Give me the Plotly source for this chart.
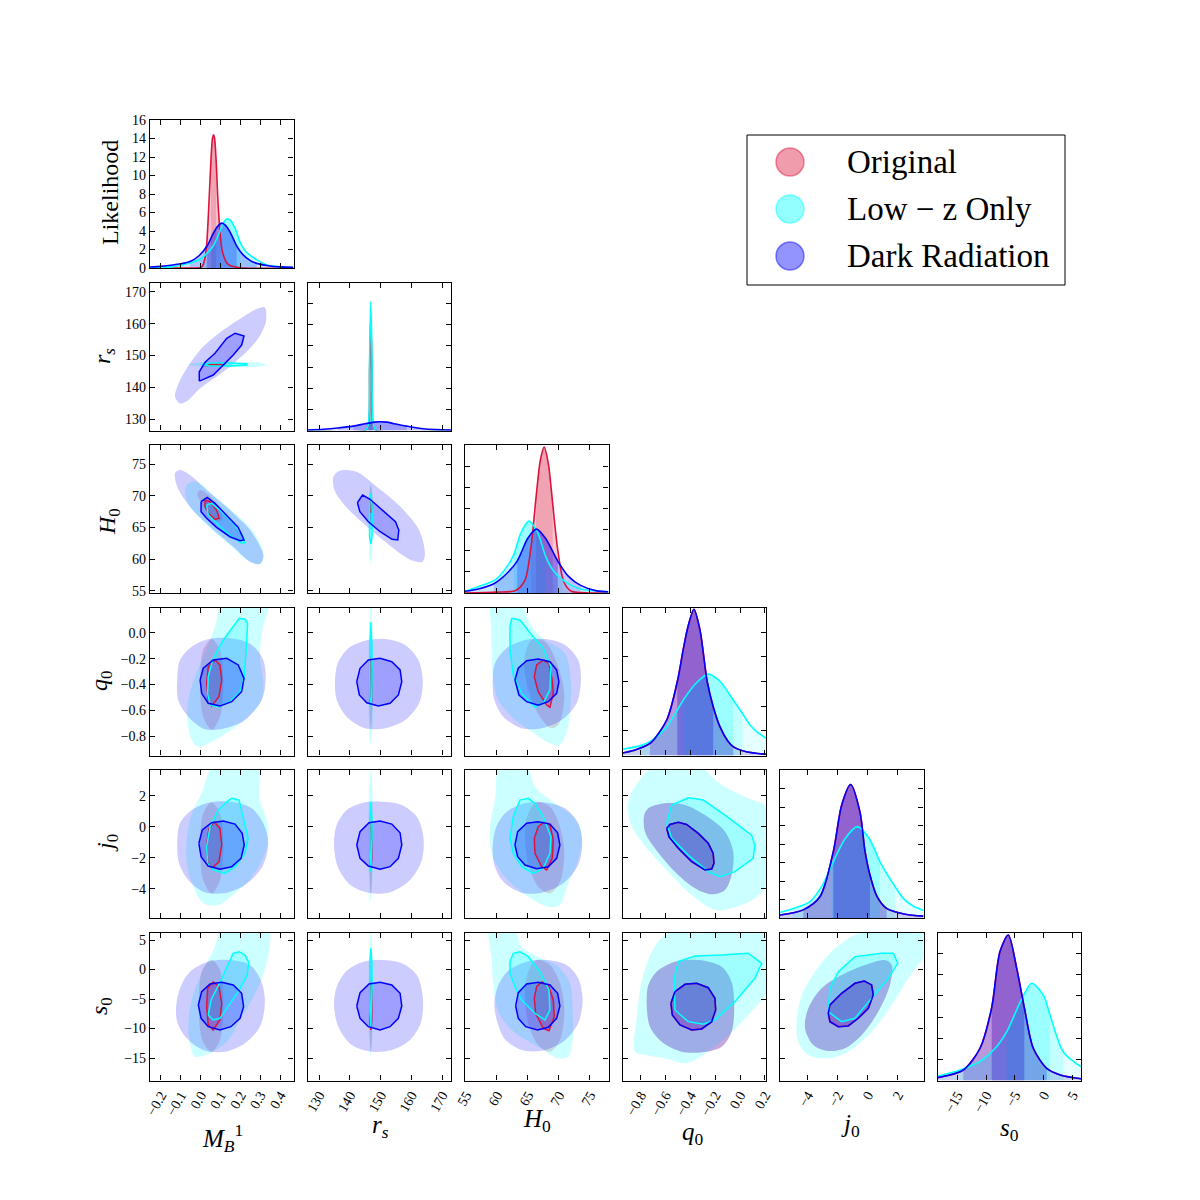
import plotly.graph_objects as go

# ======================= tick labels =======================
MB_ticks = [-0.2, -0.1, 0.0, 0.1, 0.2, 0.3, 0.4]
MB_ticktext = ["−0.2", "−0.1", "0.0", "0.1", "0.2", "0.3", "0.4"]
rs_ticks = [130, 140, 150, 160, 170]
rs_ticktext = ["130", "140", "150", "160", "170"]
H0_ticks = [55, 60, 65, 70, 75]
H0_ticktext = ["55", "60", "65", "70", "75"]
q0_ticks = [-0.8, -0.6, -0.4, -0.2, 0.0, 0.2]
q0_ticktext = ["−0.8", "−0.6", "−0.4", "−0.2", "0.0", "0.2"]
j0_ticks = [-4, -2, 0, 2]
j0_ticktext = ["−4", "−2", "0", "2"]
s0_ticks = [-15, -10, -5, 0, 5]
s0_ticktext = ["−15", "−10", "−5", "0", "5"]
like_ticks = [0, 2, 4, 6, 8, 10, 12, 14, 16]
like_ticktext = ["0", "2", "4", "6", "8", "10", "12", "14", "16"]

series_names = ["Original", "Low − z Only", "Dark Radiation"]

# ======================= 1D marginals =======================
MB_orig_x = [-0.255, -0.05, 0.0, 0.01, 0.02, 0.03, 0.042, 0.052, 0.06, 0.065, 0.07, 0.078, 0.087, 0.1, 0.11, 0.13, 0.15, 0.2, 0.466]
MB_orig_y = [0, 0, 0.05, 0.25, 0.9, 2.5, 7.2, 11.8, 14.1, 14.4, 14.0, 11.5, 7.2, 3.2, 1.7, 0.6, 0.25, 0.03, 0]
MB_orig_band = [0.03, 0.052, 0.078, 0.1]
MB_lowz_x = [-0.255, -0.15, -0.054, 0.0, 0.03, 0.06, 0.09, 0.11, 0.131, 0.15, 0.175, 0.198, 0.23, 0.282, 0.33, 0.382, 0.466]
MB_lowz_y = [0.03, 0.12, 0.54, 1.0, 1.55, 2.3, 3.6, 4.7, 5.3, 5.15, 4.2, 2.8, 1.7, 0.9, 0.35, 0.15, 0.04]
MB_lowz_band = [0.0, 0.06, 0.198, 0.282]
MB_dark_x = [-0.255, -0.22, -0.15, -0.1, -0.054, -0.01, 0.033, 0.06, 0.085, 0.106, 0.125, 0.15, 0.181, 0.21, 0.25, 0.282, 0.34, 0.4, 0.466]
MB_dark_y = [0.1, 0.15, 0.3, 0.45, 0.7, 1.3, 2.4, 3.6, 4.5, 4.85, 4.6, 3.8, 2.4, 1.5, 0.8, 0.5, 0.25, 0.12, 0.07]
MB_dark_band = [-0.054, 0.033, 0.181, 0.282]

rs_orig_x = [126.2, 145.0, 146.0, 146.4, 146.8, 147.2, 147.6, 148.6, 172.9]
rs_orig_y = [0, 0, 0.01, 0.14, 0.27, 0.14, 0.01, 0, 0]
rs_orig_band = [146.0, 146.4, 147.2, 147.6]
rs_lowz_x = [126.2, 145.0, 145.9, 146.4, 146.8, 147.2, 147.7, 148.6, 172.9]
rs_lowz_y = [0, 0, 0.01, 0.17, 0.305, 0.17, 0.01, 0, 0]
rs_lowz_band = [145.9, 146.4, 147.2, 147.7]
rs_dark_x = [126.2, 131.3, 136.0, 141.1, 145.0, 148.0, 149.8, 152.0, 154.5, 158.5, 163.9, 168.0, 172.9]
rs_dark_y = [0.001, 0.003, 0.006, 0.0104, 0.016, 0.0198, 0.0208, 0.0198, 0.016, 0.0104, 0.004, 0.002, 0.001]
rs_dark_band = [136.0, 141.1, 158.5, 163.9]

H0_orig_x = [54.84, 60.0, 63.0, 64.5, 65.5, 66.3, 67.0, 67.62, 68.3, 69.0, 69.8, 70.8, 72.0, 75.0, 78.0]
H0_orig_y = [0, 0.002, 0.006, 0.03, 0.11, 0.225, 0.314, 0.345, 0.305, 0.21, 0.103, 0.026, 0.004, 0, 0]
H0_orig_band = [65.5, 66.3, 69.0, 69.8]
H0_lowz_x = [54.84, 57.0, 59.7, 61.5, 62.7, 63.8, 65.16, 66.5, 67.9, 69.0, 70.6, 73.4, 78.0]
H0_lowz_y = [0.004, 0.015, 0.031, 0.06, 0.09, 0.14, 0.17, 0.145, 0.085, 0.055, 0.031, 0.01, 0.003]
H0_lowz_band = [59.7, 62.7, 67.9, 70.6]
H0_dark_x = [54.84, 57.0, 59.5, 61.5, 63.26, 65.0, 66.36, 67.8, 69.81, 71.5, 73.5, 76.1, 78.0]
H0_dark_y = [0.004, 0.0095, 0.022, 0.045, 0.0755, 0.13, 0.151, 0.13, 0.0755, 0.04, 0.018, 0.005, 0.003]
H0_dark_band = [59.5, 63.26, 69.81, 73.5]

q0_dark_x = [-0.946, -0.859, -0.725, -0.59, -0.505, -0.457, -0.42, -0.371, -0.323, -0.264, -0.216, -0.162, -0.1, -0.055, 0.05, 0.209]
q0_dark_y = [0.1, 0.2, 0.49, 1.44, 2.99, 4.3, 5.2, 5.93, 5.1, 2.99, 1.98, 1.17, 0.6, 0.36, 0.15, 0.05]
q0_dark_band = [-0.725, -0.505, -0.216, -0.055]
q0_orig_x, q0_orig_y, q0_orig_band = q0_dark_x, q0_dark_y, q0_dark_band
q0_lowz_x = [-0.946, -0.8, -0.725, -0.6, -0.537, -0.45, -0.35, -0.256, -0.16, -0.055, 0.02, 0.08, 0.14, 0.209]
q0_lowz_y = [0.25, 0.4, 0.56, 1.1, 1.57, 2.3, 2.95, 3.30, 3.0, 2.25, 1.7, 1.24, 0.95, 0.70]
q0_lowz_band = [-0.8, -0.45, -0.055, 0.02]

j0_dark_x = [-5.85, -4.3, -3.18, -2.29, -1.74, -1.14, -0.52, -0.18, 0.15, 0.6, 1.26, 2.5, 3.72]
j0_dark_y = [0.008, 0.022, 0.058, 0.18, 0.305, 0.361, 0.287, 0.18, 0.116, 0.06, 0.026, 0.01, 0.005]
j0_dark_band = [-4.3, -2.29, 0.15, 1.26]
j0_orig_x, j0_orig_y, j0_orig_band = j0_dark_x, j0_dark_y, j0_dark_band
j0_lowz_x = [-5.85, -5.0, -3.85, -3.0, -2.4, -1.5, -0.70, 0.1, 0.82, 1.82, 2.37, 3.0, 3.72]
j0_lowz_y = [0.015, 0.025, 0.044, 0.09, 0.143, 0.215, 0.247, 0.215, 0.152, 0.085, 0.053, 0.033, 0.02]
j0_lowz_band = [-5.0, -2.4, 0.82, 1.82]

s0_dark_x = [-18.44, -13.96, -11.06, -9.03, -7.59, -6.15, -4.69, -3.37, -1.81, 0.52, 3.0, 6.47]
s0_dark_y = [0.0027, 0.0099, 0.0305, 0.069, 0.122, 0.1376, 0.106, 0.069, 0.0305, 0.0115, 0.005, 0.0017]
s0_dark_band = [-13.96, -9.03, -3.37, 0.52]
s0_orig_x, s0_orig_y, s0_orig_band = s0_dark_x, s0_dark_y, s0_dark_band
s0_lowz_x = [-18.44, -14.5, -11.06, -8.5, -6.43, -4.0, -2.09, 0.0, 1.09, 3.41, 6.47]
s0_lowz_y = [0.004, 0.01, 0.018, 0.03, 0.046, 0.075, 0.092, 0.08, 0.062, 0.027, 0.013]
s0_lowz_band = [-14.5, -6.43, 1.09, 3.41]

# ======================= 2D contours (95% and 68%) =======================
rs_MB_dark_95 = [(-0.129,137.1),(-0.104,135.0),(-0.070,135.7),(-0.003,139.7),(0.114,144.9),(0.231,151.2),(0.290,155.4),(0.328,160.6),(0.323,165.1),(0.290,164.8),(0.214,162.2),(0.114,158.0),(0.013,152.8),(-0.070,146.0),(-0.118,140.2)]
rs_MB_dark_68 = [(-0.007,142.0),(-0.007,144.9),(0.022,147.9),(0.072,150.7),(0.131,155.4),(0.173,157.0),(0.218,156.1),(0.206,153.3),(0.164,150.2),(0.114,147.0),(0.063,143.9),(0.005,142.3)]
rs_MB_lowz_95 = [(-0.062,147.2),(0.0,147.9),(0.15,148.0),(0.30,147.8),(0.332,147.2),(0.30,146.6),(0.15,146.4),(0.0,146.5)]
rs_MB_lowz_68 = [(0.005,147.2),(0.05,147.65),(0.15,147.7),(0.233,147.4),(0.233,147.0),(0.15,146.75),(0.05,146.75)]
rs_MB_orig_95 = [(0.005,147.1),(0.06,147.5),(0.13,147.4),(0.13,146.9),(0.06,146.8)]
rs_MB_orig_68 = [(0.022,147.1),(0.022,147.35),(0.106,147.35),(0.106,146.85),(0.022,146.85)]

H0_MB_dark_95 = [(-0.129,73.55),(-0.104,74.07),(-0.054,73.28),(0.030,70.91),(0.147,67.75),(0.248,64.59),(0.315,60.64),(0.298,59.22),(0.248,59.58),(0.164,61.95),(0.047,65.11),(-0.054,68.27),(-0.118,71.43)]
H0_MB_lowz_95 = [(-0.070,71.70),(-0.020,72.22),(0.063,70.12),(0.164,67.48),(0.265,64.32),(0.318,60.37),(0.298,59.22),(0.239,59.74),(0.147,62.22),(0.030,65.38),(-0.054,68.27),(-0.079,70.39)]
H0_MB_orig_95 = [(-0.003,70.91),(0.030,70.39),(0.080,68.54),(0.111,66.44),(0.089,65.90),(0.047,66.96),(0.005,68.80),(-0.017,70.39)]
H0_MB_orig_68 = [(0.022,69.33),(0.047,69.06),(0.080,67.75),(0.094,66.44),(0.072,66.28),(0.043,67.12),(0.022,68.27)]
H0_MB_dark_68 = [(0.002,69.06),(0.033,69.75),(0.072,68.80),(0.131,66.96),(0.189,65.01),(0.218,63.01),(0.198,62.90),(0.147,63.53),(0.080,65.01),(0.030,66.44),(0.002,67.48)]
H0_MB_lowz_68 = [(0.030,68.54),(0.055,68.80),(0.106,67.48),(0.164,65.65),(0.211,63.80),(0.223,62.59),(0.206,62.49),(0.156,63.53),(0.089,65.38),(0.038,66.96)]

H0_rs_dark_95 = [(134.64,73.01),(136.62,73.96),(142.13,73.80),(148.74,71.43),(156.46,68.27),(162.52,64.59),(164.41,60.91),(163.63,59.58),(159.78,59.85),(152.06,62.49),(144.34,65.65),(137.73,68.80),(134.96,70.91)]
H0_rs_dark_68 = [(142.45,68.91),(144.12,70.12),(146.56,69.44),(150.96,67.48),(154.83,65.90),(155.91,64.59),(155.58,63.01),(153.72,63.12),(149.85,64.32),(146.01,65.90),(143.24,67.48)]
H0_rs_lowz_95 = [(146.8,72.1),(147.3,70.0),(147.4,66.0),(147.3,61.0),(146.8,59.2),(146.3,61.0),(146.2,66.0),(146.3,70.0)]
H0_rs_lowz_68 = [(146.8,70.4),(147.2,68.5),(147.25,66.0),(147.2,63.5),(146.8,62.4),(146.4,63.5),(146.35,66.0),(146.4,68.5)]
H0_rs_orig_95 = [(146.8,71.6),(147.3,70.0),(147.3,67.5),(146.8,66.2),(146.3,67.5),(146.3,70.0)]
H0_rs_orig_68 = [(146.8,69.5),(147.15,68.8),(147.2,68.0),(146.8,67.3),(146.45,68.0),(146.5,68.8)]

q0_MB_dark_95 = [(-0.118,-0.366),(-0.104,-0.211),(-0.045,-0.108),(0.038,-0.050),(0.156,-0.043),(0.257,-0.094),(0.315,-0.211),(0.327,-0.366),(0.307,-0.521),(0.223,-0.676),(0.122,-0.740),(0.022,-0.748),(-0.062,-0.650),(-0.113,-0.521)]
q0_MB_lowz_95 = [(-0.012,-0.883),(-0.045,-0.831),(-0.065,-0.701),(-0.062,-0.521),(-0.029,-0.340),(0.022,-0.159),(0.072,0.047),(0.114,0.25),(0.332,0.25),(0.307,-0.004),(0.298,-0.185),(0.315,-0.391),(0.307,-0.521),(0.239,-0.650),(0.139,-0.766),(0.055,-0.844)]
q0_MB_orig_95 = [(0.055,-0.05),(0.097,-0.133),(0.114,-0.391),(0.097,-0.65),(0.055,-0.748),(0.013,-0.65),(-0.003,-0.391),(0.013,-0.133)]
q0_MB_orig_68 = [(0.072,-0.211),(0.097,-0.249),(0.106,-0.366),(0.092,-0.495),(0.055,-0.567),(0.038,-0.521),(0.030,-0.391),(0.038,-0.263)]
q0_MB_dark_68 = [(-0.003,-0.366),(0.013,-0.275),(0.063,-0.211),(0.131,-0.198),(0.189,-0.249),(0.218,-0.353),(0.206,-0.456),(0.156,-0.534),(0.097,-0.567),(0.038,-0.546),(0.005,-0.469)]
q0_MB_lowz_68 = [(0.047,-0.560),(0.035,-0.469),(0.038,-0.340),(0.063,-0.198),(0.114,-0.056),(0.164,0.047),(0.194,0.112),(0.223,0.105),(0.236,0.074),(0.231,-0.081),(0.219,-0.340),(0.198,-0.456),(0.147,-0.534),(0.089,-0.573)]

q0_rs_dark_95 = [(135.16,-0.379),(136.04,-0.236),(139.49,-0.120),(144.93,-0.061),(151.44,-0.048),(157.96,-0.094),(162.29,-0.211),(163.72,-0.379),(162.52,-0.546),(157.96,-0.676),(151.44,-0.740),(144.93,-0.740),(138.97,-0.650),(135.71,-0.521)]
q0_rs_dark_68 = [(142.22,-0.379),(143.30,-0.275),(146.0,-0.211),(149.82,-0.198),(153.63,-0.224),(156.33,-0.288),(156.88,-0.379),(155.78,-0.482),(153.07,-0.546),(149.26,-0.567),(145.48,-0.542),(143.07,-0.482)]
q0_rs_lowz_95 = [(146.8,0.25),(147.4,0.0),(147.5,-0.35),(147.4,-0.7),(146.8,-0.87),(146.2,-0.7),(146.1,-0.35),(146.2,0.0)]
q0_rs_lowz_68 = [(146.8,0.079),(147.15,-0.1),(147.2,-0.35),(147.1,-0.5),(146.8,-0.567),(146.5,-0.5),(146.45,-0.35),(146.5,-0.1)]
q0_rs_orig_95 = [(146.8,-0.06),(147.2,-0.2),(147.3,-0.4),(147.2,-0.6),(146.8,-0.74),(146.4,-0.6),(146.3,-0.4),(146.4,-0.2)]
q0_rs_orig_68 = [(146.8,-0.2),(147.1,-0.28),(147.15,-0.4),(147.1,-0.52),(146.8,-0.567),(146.5,-0.52),(146.45,-0.4),(146.5,-0.28)]

q0_H0_dark_95 = [(59.31,-0.379),(59.68,-0.236),(61.57,-0.120),(64.52,-0.056),(67.74,-0.048),(70.97,-0.094),(73.11,-0.211),(73.55,-0.366),(72.86,-0.546),(70.44,-0.676),(67.21,-0.740),(63.99,-0.740),(61.02,-0.650),(59.57,-0.521)]
q0_H0_lowz_95 = [(59.14,0.25),(63.44,0.25),(65.60,0.047),(67.74,-0.056),(70.97,-0.159),(71.94,-0.391),(71.78,-0.598),(71.50,-0.728),(70.16,-0.870),(68.55,-0.857),(65.60,-0.766),(62.37,-0.650),(60.21,-0.521),(59.40,-0.366),(59.14,-0.133),(59.03,0.047)]
q0_H0_orig_95 = [(65.60,-0.056),(67.74,-0.069),(69.89,-0.263),(70.86,-0.495),(69.89,-0.715),(68.82,-0.740),(66.94,-0.650),(65.05,-0.443),(64.41,-0.211)]
q0_H0_orig_68 = [(67.47,-0.211),(68.39,-0.236),(68.93,-0.366),(69.09,-0.469),(68.55,-0.577),(68.02,-0.560),(66.66,-0.456),(66.02,-0.340),(66.40,-0.249)]
q0_H0_dark_68 = [(62.90,-0.366),(63.44,-0.275),(64.79,-0.216),(66.66,-0.203),(68.55,-0.224),(69.63,-0.288),(70.0,-0.379),(69.63,-0.469),(68.28,-0.534),(66.66,-0.562),(64.79,-0.534),(63.55,-0.482)]
q0_H0_lowz_68 = [(62.37,0.112),(63.71,0.099),(65.60,-0.017),(67.47,-0.120),(68.71,-0.263),(68.55,-0.443),(67.47,-0.546),(66.13,-0.577),(63.99,-0.469),(62.63,-0.327),(62.10,-0.133),(62.10,0.047)]

j0_MB_dark_95 = [(-0.118,-1.07),(-0.104,0.22),(-0.045,1.08),(0.047,1.57),(0.156,1.61),(0.257,1.19),(0.315,0.22),(0.340,-1.07),(0.310,-2.58),(0.223,-3.76),(0.114,-4.30),(0.013,-4.19),(-0.062,-3.44),(-0.109,-2.36)]
j0_MB_lowz_95 = [(0.063,3.9),(0.282,3.9),(0.298,1.72),(0.340,0.0),(0.323,-1.72),(0.257,-3.23),(0.173,-4.30),(0.089,-5.05),(0.013,-4.94),(-0.037,-3.87),(-0.070,-2.36),(-0.070,-0.86),(-0.045,0.86),(0.005,2.15)]
j0_MB_orig_95 = [(0.055,1.57),(0.097,0.86),(0.114,-1.29),(0.097,-3.44),(0.055,-4.30),(0.013,-3.44),(-0.003,-1.29),(0.013,0.86)]
j0_MB_orig_68 = [(0.068,0.32),(0.097,-0.11),(0.106,-1.18),(0.092,-2.26),(0.055,-2.68),(0.035,-2.26),(0.030,-1.18),(0.042,-0.11)]
j0_MB_dark_68 = [(-0.009,-1.07),(0.008,-0.21),(0.055,0.26),(0.114,0.37),(0.173,0.17),(0.209,-0.43),(0.219,-1.18),(0.203,-2.04),(0.156,-2.58),(0.097,-2.75),(0.038,-2.54),(0.002,-1.93)]
j0_MB_lowz_68 = [(0.035,-2.36),(0.030,-1.29),(0.047,0.00),(0.089,1.08),(0.131,1.61),(0.156,1.83),(0.193,1.72),(0.219,0.43),(0.239,-0.75),(0.223,-1.72),(0.173,-2.58),(0.122,-3.01),(0.063,-2.79)]

j0_rs_dark_95 = [(134.83,-1.18),(135.71,0.11),(138.97,1.08),(144.38,1.55),(150.37,1.61),(156.88,1.40),(161.77,0.64),(163.92,-0.64),(163.40,-2.15),(159.59,-3.44),(153.63,-4.19),(147.11,-4.30),(140.6,-3.83),(136.23,-2.68)]
j0_rs_dark_68 = [(142.22,-1.18),(143.30,-0.32),(146.23,0.26),(149.82,0.37),(153.63,0.17),(156.33,-0.39),(156.88,-1.18),(155.78,-2.04),(153.07,-2.58),(149.82,-2.75),(146.0,-2.54),(143.30,-2.04)]
j0_rs_lowz_95 = [(146.8,3.9),(147.4,2.0),(147.5,-0.5),(147.4,-3.0),(146.8,-4.94),(146.2,-3.0),(146.1,-0.5),(146.2,2.0)]
j0_rs_lowz_68 = [(146.8,1.61),(147.15,0.5),(147.2,-0.6),(147.1,-2.0),(146.8,-2.9),(146.5,-2.0),(146.45,-0.6),(146.5,0.5)]
j0_rs_orig_95 = [(146.8,1.57),(147.2,0.5),(147.3,-1.3),(147.2,-3.2),(146.8,-4.3),(146.4,-3.2),(146.3,-1.3),(146.4,0.5)]
j0_rs_orig_68 = [(146.8,0.32),(147.1,-0.3),(147.15,-1.18),(147.1,-2.1),(146.8,-2.68),(146.5,-2.1),(146.45,-1.18),(146.5,-0.3)]

j0_H0_dark_95 = [(59.31,-1.29),(59.89,0.00),(61.57,0.97),(64.52,1.51),(67.74,1.57),(70.97,1.19),(73.11,0.22),(73.76,-1.07),(73.11,-2.47),(70.70,-3.65),(67.21,-4.26),(63.99,-4.26),(61.02,-3.55),(59.57,-2.47)]
j0_H0_lowz_95 = [(60.49,3.9),(64.79,3.9),(66.13,2.58),(69.36,1.51),(72.31,0.64),(73.66,-0.43),(73.11,-2.15),(71.50,-3.65),(70.16,-5.05),(68.28,-5.16),(65.05,-4.52),(61.29,-3.23),(59.14,-1.72),(58.87,0.00),(59.68,1.72)]
j0_H0_orig_95 = [(66.40,1.57),(68.55,1.29),(70.16,0.00),(70.86,-1.72),(70.16,-3.55),(68.55,-4.30),(66.66,-3.87),(65.05,-2.36),(64.52,-0.43),(65.05,0.86)]
j0_H0_orig_68 = [(67.63,0.32),(68.55,0.11),(69.09,-0.86),(68.93,-2.04),(68.02,-2.79),(67.21,-2.58),(66.13,-1.72),(66.02,-0.75),(66.66,0.00)]
j0_H0_dark_68 = [(62.90,-1.18),(63.34,-0.32),(64.79,0.22),(66.66,0.32),(68.55,0.17),(69.79,-0.39),(70.16,-1.18),(69.63,-2.04),(68.28,-2.58),(66.40,-2.71),(64.52,-2.47),(63.34,-1.93)]
j0_H0_lowz_68 = [(62.63,-1.72),(62.10,-0.75),(62.63,0.64),(63.71,1.72),(65.05,1.83),(66.13,1.51),(67.47,0.64),(68.71,-0.64),(68.55,-1.72),(67.47,-2.68),(65.86,-3.01),(63.99,-2.58)]

j0_q0_dark_95 = [(-0.771,0.75),(-0.738,1.19),(-0.604,1.51),(-0.443,1.40),(-0.282,0.75),(-0.121,-0.32),(-0.055,-1.61),(-0.068,-3.12),(-0.121,-4.08),(-0.228,-4.36),(-0.363,-3.97),(-0.524,-2.90),(-0.685,-1.39),(-0.765,-0.32)]
j0_q0_lowz_95 = [(-0.899,1.61),(-0.819,2.90),(-0.685,3.9),(-0.336,3.9),(-0.148,2.69),(0.066,1.83),(0.25,1.08),(0.25,-3.12),(0.120,-4.62),(-0.068,-5.26),(-0.202,-5.37),(-0.389,-4.41),(-0.578,-2.90),(-0.792,-0.97),(-0.886,0.32)]
j0_q0_dark_68 = [(-0.590,-0.10),(-0.564,0.15),(-0.497,0.28),(-0.430,0.15),(-0.336,-0.43),(-0.256,-1.07),(-0.216,-1.72),(-0.210,-2.36),(-0.228,-2.73),(-0.282,-2.79),(-0.389,-2.26),(-0.497,-1.39),(-0.572,-0.65)]
j0_q0_lowz_68 = [(-0.590,0.22),(-0.550,1.40),(-0.417,1.87),(-0.296,1.72),(-0.121,0.75),(0.093,-0.54),(0.120,-1.18),(0.106,-2.04),(-0.041,-2.90),(-0.162,-3.23),(-0.256,-2.90),(-0.417,-1.83),(-0.550,-0.75)]
j0_q0_orig_95 = j0_q0_dark_95
j0_q0_orig_68 = j0_q0_dark_68

s0_MB_dark_95 = [(-0.124,-6.56),(-0.104,-3.17),(-0.054,-0.36),(0.038,1.34),(0.147,1.62),(0.248,0.78),(0.307,-2.17),(0.323,-5.72),(0.298,-9.68),(0.223,-12.49),(0.122,-13.92),(0.013,-13.63),(-0.070,-11.65),(-0.116,-9.11)]
s0_MB_lowz_95 = [(0.106,7.0),(0.340,7.0),(0.344,3.32),(0.327,0.49),(0.298,-2.33),(0.257,-5.16),(0.198,-8.55),(0.139,-11.94),(0.047,-14.19),(-0.029,-14.77),(-0.054,-12.49),(-0.062,-9.11),(-0.045,-5.16),(0.005,-0.63),(0.072,3.88)]
s0_MB_orig_95 = [(0.055,1.62),(0.097,-0.07),(0.114,-5.72),(0.097,-11.94),(0.055,-13.92),(0.008,-11.94),(-0.009,-5.72),(0.008,-0.07)]
s0_MB_orig_68 = [(0.063,-2.06),(0.092,-2.90),(0.106,-5.72),(0.097,-8.55),(0.063,-10.24),(0.038,-9.39),(0.030,-6.29),(0.035,-3.17)]
s0_MB_dark_68 = [(-0.012,-6.00),(0.005,-3.75),(0.047,-2.44),(0.106,-2.16),(0.164,-2.61),(0.206,-4.02),(0.216,-6.29),(0.198,-8.26),(0.152,-9.68),(0.097,-10.24),(0.038,-9.68),(0.002,-8.26)]
s0_MB_lowz_68 = [(0.038,-7.70),(0.052,-5.16),(0.097,-2.17),(0.139,1.06),(0.164,2.76),(0.194,3.03),(0.223,2.47),(0.243,1.06),(0.231,-1.21),(0.189,-3.75),(0.139,-6.29),(0.097,-8.26),(0.063,-8.55)]

s0_rs_dark_95 = [(134.83,-6.00),(135.71,-2.90),(138.97,-0.19),(144.38,1.34),(150.37,1.62),(156.88,1.06),(161.77,-0.92),(163.72,-4.60),(163.17,-8.83),(159.59,-11.94),(153.63,-13.63),(147.11,-13.92),(140.6,-12.78),(136.23,-9.68)]
s0_rs_dark_68 = [(142.22,-6.17),(143.30,-3.92),(146.23,-2.44),(149.82,-2.16),(153.63,-2.61),(156.33,-4.02),(156.88,-6.17),(155.78,-8.26),(153.07,-9.68),(149.82,-10.24),(146.0,-9.68),(143.30,-8.26)]
s0_rs_lowz_95 = [(146.8,7.0),(147.4,2.0),(147.5,-4.0),(147.4,-10.0),(146.8,-14.77),(146.2,-10.0),(146.1,-4.0),(146.2,2.0)]
s0_rs_lowz_68 = [(146.8,3.6),(147.15,1.0),(147.2,-3.0),(147.1,-7.0),(146.8,-9.7),(146.5,-7.0),(146.45,-3.0),(146.5,1.0)]
s0_rs_orig_95 = [(146.8,1.62),(147.2,-1.5),(147.3,-6.0),(147.2,-10.5),(146.8,-13.92),(146.4,-10.5),(146.3,-6.0),(146.4,-1.5)]
s0_rs_orig_68 = [(146.8,-2.06),(147.1,-3.5),(147.15,-6.0),(147.1,-8.5),(146.8,-10.24),(146.5,-8.5),(146.45,-6.0),(146.5,-3.5)]

s0_H0_dark_95 = [(59.57,-6.00),(60.12,-2.90),(61.82,-0.19),(64.79,1.34),(68.02,1.62),(71.24,0.78),(73.11,-1.48),(73.82,-5.16),(73.11,-9.11),(70.70,-12.22),(67.21,-13.75),(63.99,-13.63),(61.29,-11.82),(60.12,-9.11)]
s0_H0_lowz_95 = [(58.87,7.0),(62.63,7.0),(63.99,3.88),(66.66,2.18),(69.89,0.49),(71.78,-2.33),(72.21,-6.85),(72.21,-11.94),(71.50,-14.77),(69.89,-15.04),(66.66,-13.07),(62.37,-10.24),(60.12,-6.85),(59.40,-2.33),(59.14,1.62)]
s0_H0_orig_95 = [(66.40,1.62),(68.55,0.78),(70.16,-2.33),(70.86,-6.85),(70.16,-11.94),(68.55,-13.92),(66.66,-12.78),(65.05,-9.11),(64.52,-4.02),(65.05,-0.36)]
s0_H0_orig_68 = [(67.21,-2.06),(68.28,-2.61),(69.09,-5.16),(69.25,-7.99),(68.39,-10.36),(67.47,-9.96),(66.24,-7.41),(66.02,-4.87),(66.40,-2.90)]
s0_H0_dark_68 = [(63.02,-6.17),(63.44,-3.92),(64.79,-2.44),(66.66,-2.16),(68.55,-2.61),(69.79,-4.02),(70.16,-6.17),(69.63,-8.26),(68.28,-9.78),(66.56,-10.24),(64.63,-9.68),(63.44,-8.26)]
s0_H0_lowz_68 = [(62.10,1.34),(62.63,2.76),(63.71,3.03),(65.05,2.18),(66.94,-0.36),(68.39,-3.46),(68.55,-6.85),(67.74,-8.55),(66.13,-7.41),(63.99,-5.16),(62.90,-2.90),(62.10,-0.63)]

s0_q0_dark_95 = [(-0.751,-6.00),(-0.738,-2.61),(-0.671,-0.36),(-0.524,1.34),(-0.336,1.62),(-0.148,0.49),(-0.068,-2.06),(-0.047,-6.56),(-0.068,-10.53),(-0.148,-13.07),(-0.309,-14.02),(-0.470,-13.92),(-0.631,-12.22),(-0.725,-9.68)]
s0_q0_lowz_95 = [(-0.845,-13.92),(-0.832,-8.26),(-0.792,-2.06),(-0.711,3.03),(-0.604,5.86),(-0.389,7.0),(-0.121,7.0),(0.25,5.3),(0.25,-2.61),(0.066,-7.70),(-0.121,-11.65),(-0.336,-15.04),(-0.443,-15.89),(-0.604,-15.04),(-0.765,-14.48)]
s0_q0_dark_68 = [(-0.556,-5.72),(-0.524,-3.75),(-0.443,-2.50),(-0.349,-2.33),(-0.256,-3.07),(-0.202,-4.87),(-0.196,-6.85),(-0.228,-8.83),(-0.309,-10.07),(-0.389,-10.24),(-0.483,-9.39),(-0.545,-7.70)]
s0_q0_lowz_68 = [(-0.524,-6.85),(-0.530,-1.48),(-0.497,1.34),(-0.363,2.30),(-0.148,2.47),(0.066,2.76),(0.174,1.06),(0.120,-1.48),(-0.041,-5.44),(-0.202,-8.55),(-0.296,-9.27),(-0.417,-8.83)]
s0_q0_orig_95 = s0_q0_dark_95
s0_q0_orig_68 = s0_q0_dark_68

s0_j0_dark_95 = [(-4.18,-9.95),(-3.96,-6.56),(-3.07,-3.17),(-1.74,-0.92),(-0.18,0.78),(1.15,1.62),(1.60,0.78),(1.48,-2.61),(0.70,-7.14),(-0.40,-11.09),(-1.52,-13.34),(-2.63,-13.80),(-3.63,-12.78)]
s0_j0_lowz_95 = [(-4.74,-8.83),(-4.40,-4.31),(-3.52,-0.36),(-2.18,3.61),(-0.85,5.86),(0.93,7.0),(3.9,7.0),(3.9,3.03),(2.70,-1.48),(1.60,-6.00),(0.26,-10.53),(-1.30,-13.92),(-2.63,-15.04),(-3.96,-14.48),(-4.63,-12.22)]
s0_j0_dark_68 = [(-2.63,-7.41),(-2.52,-6.00),(-1.74,-4.02),(-0.85,-2.33),(-0.23,-1.94),(0.26,-2.61),(0.37,-4.31),(0.04,-6.56),(-0.63,-8.26),(-1.30,-9.56),(-1.96,-9.68),(-2.52,-8.83)]
s0_j0_lowz_68 = [(-2.63,-7.14),(-2.52,-3.17),(-1.96,-0.36),(-0.85,2.18),(0.93,2.76),(1.70,2.76),(2.00,1.06),(1.37,-1.48),(0.26,-4.87),(-0.85,-8.26),(-1.74,-8.83),(-2.52,-7.41)]
s0_j0_orig_95 = s0_j0_dark_95
s0_j0_orig_68 = s0_j0_dark_68

# ======================= figure construction =======================
G = globals()
PARAMS = ["MB", "rs", "H0", "q0", "j0", "s0"]
ORDER = ["orig", "lowz", "dark"]
COLORS = {"orig": (220, 20, 60), "lowz": (0, 255, 255), "dark": (0, 0, 255)}
FONT = "Liberation Serif, DejaVu Serif, serif"

# page body margin of the viewer is 8 px: the figure is 1184 px and all
# positions below are given in window pixels, shifted by that margin
OFF = 8
W = 1184


def PX(x):
    return (x - OFF) / W


def PY(y):
    return 1 - (y - OFF) / W


XRANGE = {"MB": [-0.255, 0.467], "rs": [126.2, 172.9], "H0": [54.84, 78.0],
          "q0": [-0.946, 0.209], "j0": [-5.85, 3.72], "s0": [-18.44, 6.47]}
YRANGE = {"rs": [126.5, 172.9], "H0": [54.64, 78.02], "q0": [-0.951, 0.196],
          "j0": [-5.89, 3.66], "s0": [-18.8, 6.28]}
DIAG_YRANGE = {"MB": [0, 16], "rs": [0, 0.35], "H0": [0, 0.35], "q0": [0, 6],
               "j0": [0, 0.4], "s0": [0, 0.14]}
DIAG_DTICK = {"MB": 2, "rs": 0.05, "H0": 0.05, "q0": 1, "j0": 0.05, "s0": 0.02}


def rgba(c, a):
    return f"rgba({c[0]},{c[1]},{c[2]},{a})"


def col_dom(c):
    x0 = 150 + 157.5 * c
    return [PX(x0), PX(x0 + 143.5)]


def row_dom(r):
    top = 120 + 162.5 * r
    return [PY(top + 148), PY(top)]


fig = go.Figure()
layout = {}
axis_of = {}
k = 0
for r in range(6):
    for c in range(r + 1):
        k += 1
        axis_of[(r, c)] = k
        common = dict(showline=True, linecolor="black", linewidth=1.2, mirror="ticks",
                      ticks="inside", ticklen=5, tickwidth=1, tickcolor="black",
                      showgrid=False, zeroline=False, automargin=False,
                      tickfont=dict(family=FONT, size=14, color="black"))
        xp = PARAMS[c]
        xname = "xaxis" if k == 1 else f"xaxis{k}"
        yname = "yaxis" if k == 1 else f"yaxis{k}"
        layout[xname] = dict(common, domain=col_dom(c), anchor=("y" if k == 1 else f"y{k}"),
                             range=XRANGE[xp], tickvals=G[f"{xp}_ticks"],
                             ticktext=G[f"{xp}_ticktext"], showticklabels=(r == 5),
                             tickangle=-60)
        if r == c:
            yc = dict(common, domain=row_dom(r), anchor=("x" if k == 1 else f"x{k}"),
                      range=DIAG_YRANGE[xp], dtick=DIAG_DTICK[xp], tick0=0,
                      showticklabels=False)
            if r == 0:
                yc.update(tickvals=like_ticks, ticktext=like_ticktext, showticklabels=True)
        else:
            yp = PARAMS[r]
            yc = dict(common, domain=row_dom(r), anchor=f"x{k}", range=YRANGE[yp],
                      tickvals=G[f"{yp}_ticks"], ticktext=G[f"{yp}_ticktext"],
                      showticklabels=(c == 0))
        layout[yname] = yc


def axes(r, c):
    kk = axis_of[(r, c)]
    return ("x" if kk == 1 else f"x{kk}"), ("y" if kk == 1 else f"y{kk}")


# ---- 2D panels ----
for r in range(1, 6):
    for c in range(r):
        xa, ya = axes(r, c)
        key = f"{PARAMS[r]}_{PARAMS[c]}"
        for lvl, alpha in (("95", 0.2), ("68", 0.22)):
            for s in ORDER:
                pts = G[f"{key}_{s}_{lvl}"]
                xs = [p[0] for p in pts] + [pts[0][0]]
                ys = [p[1] for p in pts] + [pts[0][1]]
                fig.add_trace(go.Scatter(
                    x=xs, y=ys, mode="lines", fill="toself",
                    fillcolor=rgba(COLORS[s], alpha),
                    line=dict(width=0, color="rgba(0,0,0,0)",
                              shape="spline" if lvl == "95" else "linear", smoothing=0.9),
                    xaxis=xa, yaxis=ya, hoverinfo="skip", showlegend=False))
        for s in ORDER:
            pts = G[f"{key}_{s}_68"]
            xs = [p[0] for p in pts] + [pts[0][0]]
            ys = [p[1] for p in pts] + [pts[0][1]]
            fig.add_trace(go.Scatter(
                x=xs, y=ys, mode="lines", line=dict(width=1.5, color=rgba(COLORS[s], 1)),
                xaxis=xa, yaxis=ya, hoverinfo="skip", showlegend=False))

# ---- diagonal panels ----
for i, p in enumerate(PARAMS):
    xa, ya = axes(i, i)
    for s in ORDER:
        xs = G[f"{p}_{s}_x"]
        ys = G[f"{p}_{s}_y"]
        band = G[f"{p}_{s}_band"]
        col = COLORS[s]
        fig.add_trace(go.Scatter(x=xs, y=ys, mode="lines", fill="tozeroy",
                                 fillcolor=rgba(col, 0.1),
                                 line=dict(width=0, color="rgba(0,0,0,0)", shape="spline", smoothing=0.8),
                                 xaxis=xa, yaxis=ya, hoverinfo="skip", showlegend=False))
        for (lo, hi), a in (((band[0], band[3]), 0.15), ((band[1], band[2]), 0.2)):
            sel = [(x, y) for x, y in zip(xs, ys) if lo - 1e-9 <= x <= hi + 1e-9]
            fig.add_trace(go.Scatter(x=[q[0] for q in sel], y=[q[1] for q in sel], mode="lines",
                                     fill="tozeroy", fillcolor=rgba(col, a),
                                     line=dict(width=0, color="rgba(0,0,0,0)", shape="spline", smoothing=0.8),
                                     xaxis=xa, yaxis=ya, hoverinfo="skip", showlegend=False))
    for s in ORDER:
        fig.add_trace(go.Scatter(x=G[f"{p}_{s}_x"], y=G[f"{p}_{s}_y"], mode="lines",
                                 line=dict(width=1.6, color=rgba(COLORS[s], 1), shape="spline", smoothing=0.8),
                                 xaxis=xa, yaxis=ya, hoverinfo="skip", showlegend=False))

# ---- axis labels ----
annotations = []
xlabels = [("<i>M</i><sub><i>B</i></sub><sup>1</sup>", 222, 1138),
           ("<i>r</i><sub><i>s</i></sub>", 380, 1126),
           ("<i>H</i><sub>0</sub>", 537, 1120),
           ("<i>q</i><sub>0</sub>", 693, 1133),
           ("<i>j</i><sub>0</sub>", 850, 1125),
           ("<i>s</i><sub>0</sub>", 1009, 1129)]
for txt, px, py in xlabels:
    annotations.append(dict(text=txt, x=PX(px), y=PY(py), xref="paper", yref="paper",
                            showarrow=False, xanchor="center", yanchor="middle",
                            font=dict(family=FONT, size=25, color="black")))
ylabels = [("Likelihood", 110, 193),
           ("<i>r</i><sub><i>s</i></sub>", 104, 356),
           ("<i>H</i><sub>0</sub>", 109, 522),
           ("<i>q</i><sub>0</sub>", 101, 681),
           ("<i>j</i><sub>0</sub>", 107, 843),
           ("<i>s</i><sub>0</sub>", 101, 1006)]
for txt, px, py in ylabels:
    annotations.append(dict(text=txt, x=PX(px), y=PY(py), xref="paper", yref="paper",
                            showarrow=False, xanchor="center", yanchor="middle", textangle=-90,
                            font=dict(family=FONT, size=24, color="black")))

# ---- legend ----
shapes = [dict(type="rect", xref="paper", yref="paper", x0=PX(747), x1=PX(1065),
               y0=PY(285), y1=PY(135), line=dict(color="black", width=1),
               fillcolor="white", layer="above")]
leg_y = [162, 209, 256]
for s, name, cy in zip(ORDER, series_names, leg_y):
    col = COLORS[s]
    shapes.append(dict(type="circle", xref="paper", yref="paper",
                       x0=PX(776), x1=PX(804), y0=PY(cy + 14), y1=PY(cy - 14),
                       fillcolor=rgba(col, 0.42), line=dict(color=rgba(col, 0.45), width=1.5),
                       layer="above"))
    annotations.append(dict(text=name, x=PX(845), y=PY(cy), xref="paper", yref="paper",
                            showarrow=False, xanchor="left", yanchor="middle",
                            font=dict(family=FONT, size=33, color="black")))

fig.update_layout(**layout)
fig.update_layout(width=W, height=W, margin=dict(l=0, r=0, t=0, b=0, pad=0),
                  paper_bgcolor="white", plot_bgcolor="white", showlegend=False,
                  annotations=annotations, shapes=shapes)
fig.write_html("out.html")
